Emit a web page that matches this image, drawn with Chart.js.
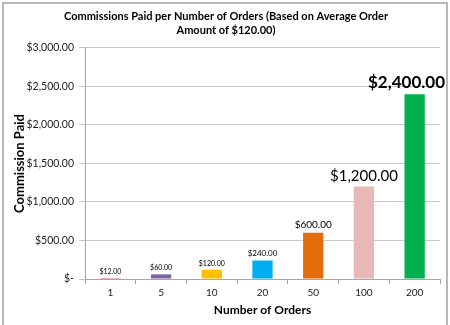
<!DOCTYPE html>
<html>
<head>
<meta charset="utf-8">
<script src="https://cdn.jsdelivr.net/npm/chart.js@4/dist/chart.umd.min.js"></script>
<style>
  html, body { margin: 0; padding: 0; background: #fff; overflow: hidden; }
  #wrap { position: relative; width: 450px; height: 325px; }
  #frame { position: absolute; left: 2px; top: 2px; width: 446px; height: 340px; border: 2px solid #b8b8b8; box-sizing: border-box; pointer-events: none; }
</style>
</head>
<body>
<div id="wrap">
  <canvas id="chart" width="450" height="325"></canvas>
  <div id="frame"></div>
</div>
<script>
const orderCounts = ['1', '5', '10', '20', '50', '100', '200']
const commissions = [12, 60, 120, 240, 600, 1200, 2400]
const yTicks = [0, 500, 1000, 1500, 2000, 2500, 3000]

const barColors = ['#C0504D', '#8064A2', '#FFC000', '#00B0F0', '#E46C0A', '#E6B9B8', '#00B050']
const labelFonts = ['7px', '7px', '7px', '8px', '10px', '15px', '17px']

const FONT = 'Lato, "Open Sans", sans-serif'

function money(v) {
  if (v === 0) return '$-'
  return '$' + v.toLocaleString('en-US', { minimumFractionDigits: 2, maximumFractionDigits: 2 })
}

// draws the value above each bar, bigger for the bigger bars
const valueLabels = {
  id: 'valueLabels',
  afterDatasetsDraw(chart) {
    const ctx = chart.ctx
    const meta = chart.getDatasetMeta(0)
    const maxRight = chart.width - 5
    ctx.save()
    ctx.textAlign = 'center'
    ctx.textBaseline = 'bottom'
    ctx.fillStyle = '#000'
    meta.data.forEach((bar, i) => {
      const bold = i === meta.data.length - 1 ? 'bold ' : ''
      ctx.font = bold + labelFonts[i] + ' ' + FONT
      const text = money(commissions[i])
      const half = ctx.measureText(text).width / 2
      // keep the label inside the frame like Excel does
      const x = Math.min(bar.x, maxRight - half)
      ctx.fillText(text, x, bar.y - 3)
    })
    ctx.restore()
  }
}

new Chart(document.getElementById('chart'), {
  type: 'bar',
  data: {
    labels: orderCounts,
    datasets: [{
      label: 'Commission Paid',
      data: commissions,
      backgroundColor: barColors,
      borderWidth: 0,
      categoryPercentage: 1,
      barPercentage: 0.4
    }]
  },
  options: {
    responsive: false,
    animation: false,
    layout: { padding: { left: 12, right: 10, top: 0, bottom: 5 } },
    plugins: {
      legend: { display: false },
      tooltip: { enabled: false },
      title: {
        display: true,
        text: ['Commissions Paid per Number of Orders (Based on Average Order', 'Amount of $120.00)'],
        color: '#000',
        font: { family: FONT, size: 11, weight: 'bold', lineHeight: 1.27 },
        padding: { top: 9, bottom: 11 }
      }
    },
    scales: {
      x: {
        grid: { display: true, drawOnChartArea: false, tickLength: 5, color: '#a6a6a6' },
        border: { color: '#a6a6a6' },
        ticks: { color: '#222', font: { family: FONT, size: 10 }, padding: 3 },
        title: {
          display: true,
          text: 'Number of Orders',
          color: '#000',
          font: { family: FONT, size: 12, weight: 'bold' },
          padding: { top: 2, bottom: 3 }
        },
        afterFit(scale) { scale.height = 41 }
      },
      y: {
        min: 0,
        max: 3000,
        afterBuildTicks(scale) { scale.ticks = yTicks.map(v => ({ value: v })) },
        grid: { color: '#c8c8c8', tickLength: 6 },
        border: { color: '#a6a6a6' },
        ticks: {
          color: '#222',
          font: { family: FONT, size: 10.5 },
          padding: 5,
          callback: v => money(v)
        },
        title: {
          display: true,
          text: 'Commission Paid',
          color: '#000',
          font: { family: FONT, size: 13, weight: 'bold' },
          padding: { top: 0, bottom: 4 }
        },
        afterFit(scale) { scale.width = 73 }
      }
    }
  },
  plugins: [valueLabels]
})
</script>
</body>
</html>
